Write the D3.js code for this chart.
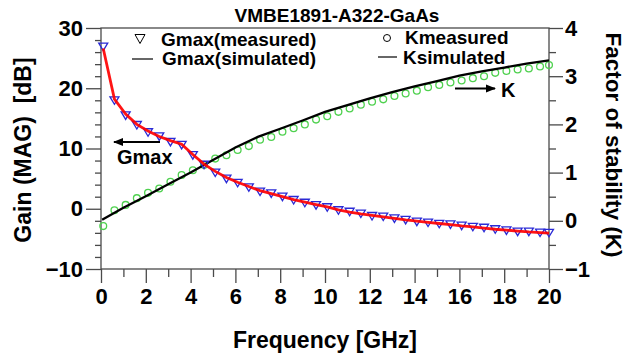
<!DOCTYPE html>
<html>
<head>
<meta charset="utf-8">
<script src="https://cdn.jsdelivr.net/npm/d3@7/dist/d3.min.js"></script>
<style>
  html, body { margin: 0; padding: 0; background: #fff; }
  svg { display: block; }
  text { font-family: Arial, "Liberation Sans", sans-serif; font-weight: bold; fill: #000; }
</style>
</head>
<body>
<svg id="chart" width="628" height="358"></svg>
<script>
// Measurement frequencies [GHz]
const freq = [0.1, 0.6, 1.1, 1.6, 2.1, 2.6, 3.1, 3.6, 4.1, 4.6, 5.1, 5.6, 6.1, 6.6, 7.1, 7.6,
  8.1, 8.6, 9.1, 9.6, 10.1, 10.6, 11.1, 11.6, 12.1, 12.6, 13.1, 13.6, 14.1, 14.6, 15.1,
  15.6, 16.1, 16.6, 17.1, 17.6, 18.1, 18.6, 19.1, 19.6, 20.0];

// Maximum available gain [dB]
const gmaxMeasured = [26.9, 18.0, 15.5, 13.9, 12.7, 12.0, 11.1, 10.6, 8.9, 7.3, 6.0, 5.0,
  4.3, 3.55, 2.85, 2.55, 2.0, 1.45, 1.0, 0.6, 0.25, -0.25, -0.5, -0.8, -1.2, -1.3, -1.6,
  -1.85, -2.15, -2.3, -2.5, -2.6, -2.8, -3.0, -3.15, -3.4, -3.6, -3.8, -3.8, -3.95, -4.0];
const gmaxSimulated = [26.6, 18.2, 15.7, 14.0, 12.9, 12.0, 11.3, 10.7, 9.0, 7.4, 6.2, 5.2,
  4.4, 3.7, 3.0, 2.5, 2.0, 1.5, 1.1, 0.7, 0.3, -0.2, -0.55, -0.85, -1.1, -1.35, -1.6,
  -1.85, -2.05, -2.25, -2.45, -2.65, -2.85, -3.0, -3.2, -3.4, -3.55, -3.7, -3.85, -3.95, -4.05];

// Stability factor K
const kMeasured = [-0.11, 0.22, 0.33, 0.47, 0.58, 0.67, 0.81, 0.95, 1.05, 1.16, 1.29, 1.36,
  1.47, 1.55, 1.68, 1.74, 1.85, 1.92, 2.00, 2.10, 2.17, 2.26, 2.33, 2.41, 2.47, 2.52, 2.59,
  2.64, 2.70, 2.77, 2.82, 2.87, 2.91, 2.96, 3.00, 3.07, 3.11, 3.14, 3.16, 3.20, 3.23];
const kSimFreq = [0.05, 1, 2, 3, 4, 5, 6, 7, 8, 9, 10, 11, 12, 13, 14, 15, 16, 17, 18, 19, 20];
const kSimulated = [0.02, 0.27, 0.51, 0.76, 1.00, 1.26, 1.52, 1.74, 1.91, 2.08, 2.26, 2.40,
  2.54, 2.67, 2.79, 2.90, 3.01, 3.10, 3.18, 3.26, 3.33];

// Axis ticks
const xMajor = [0, 2, 4, 6, 8, 10, 12, 14, 16, 18, 20];
const xMinor = [1, 3, 5, 7, 9, 11, 13, 15, 17, 19];
const gainMajor = [-10, 0, 10, 20, 30];
const gainMinor = [-8, -6, -4, -2, 2, 4, 6, 8, 12, 14, 16, 18, 22, 24, 26, 28];
const kMajor = [-1, 0, 1, 2, 3, 4];
const kMinor = [-0.5, 0.5, 1.5, 2.5, 3.5];

const svg = d3.select("#chart");
const L = 101, R = 549, T = 28, B = 269;
const axisColor = "#4a4a4a";

const x = d3.scaleLinear().domain([0, 20]).range([L, R]);
const yG = d3.scaleLinear().domain([-10, 30]).range([B, T]);
const yK = d3.scaleLinear().domain([-1, 4]).range([B, T]);

function styleAxis(g) {
  g.select(".domain").remove();
  g.selectAll(".tick line").attr("stroke", axisColor).attr("stroke-width", 1.3);
  g.selectAll(".tick text").attr("font-size", 22).attr("fill", "#000");
}

// Bottom axis
svg.append("g").attr("transform", `translate(0,${B})`)
  .call(d3.axisBottom(x).tickValues(xMajor).tickSize(14).tickPadding(5).tickFormat(d3.format("d")))
  .call(styleAxis);
svg.append("g").attr("transform", `translate(0,${B})`)
  .call(d3.axisBottom(x).tickValues(xMinor).tickSize(8).tickFormat(""))
  .call(styleAxis);

// Left axis (gain)
svg.append("g").attr("transform", `translate(${L},0)`)
  .call(d3.axisLeft(yG).tickValues(gainMajor).tickSize(15).tickPadding(3).tickFormat(d3.format("d")))
  .call(styleAxis);
svg.append("g").attr("transform", `translate(${L},0)`)
  .call(d3.axisLeft(yG).tickValues(gainMinor).tickSize(6).tickFormat(""))
  .call(styleAxis);

// Right axis (stability factor)
svg.append("g").attr("transform", `translate(${R},0)`)
  .call(d3.axisRight(yK).tickValues(kMajor).tickSize(14).tickPadding(2).tickFormat(d3.format("d")))
  .call(styleAxis);
svg.append("g").attr("transform", `translate(${R},0)`)
  .call(d3.axisRight(yK).tickValues(kMinor).tickSize(7).tickFormat(""))
  .call(styleAxis);

// Plot frame
svg.append("rect").attr("x", L).attr("y", T).attr("width", R - L).attr("height", B - T)
  .attr("fill", "none").attr("stroke", axisColor).attr("stroke-width", 1.3);

// K curves
const kPts = freq.map((f, i) => ({ f, v: kMeasured[i] }));
svg.append("g").selectAll("circle").data(kPts).join("circle")
  .attr("cx", d => x(d.f)).attr("cy", d => yK(d.v)).attr("r", 3.4)
  .attr("fill", "none").attr("stroke", "#4fd14f").attr("stroke-width", 1.3);

svg.append("path")
  .datum(kSimFreq.map((f, i) => ({ f, v: kSimulated[i] })))
  .attr("fill", "none").attr("stroke", "#000").attr("stroke-width", 2.3)
  .attr("d", d3.line().x(d => x(d.f)).y(d => yK(d.v)));

// Gmax curves
const gPts = freq.map((f, i) => ({ f, v: gmaxMeasured[i] }));
const tri = "M-4.5,-3.5L4.5,-3.5L0,4Z";
svg.append("g").selectAll("path").data(gPts).join("path")
  .attr("transform", d => `translate(${x(d.f)},${yG(d.v)})`)
  .attr("d", tri).attr("fill", "none").attr("stroke", "#2a2ad6").attr("stroke-width", 1.3);

svg.append("path")
  .datum(freq.map((f, i) => ({ f, v: gmaxSimulated[i] })))
  .attr("fill", "none").attr("stroke", "#ff0000").attr("stroke-width", 2.8)
  .attr("stroke-opacity", 0.92)
  .attr("d", d3.line().x(d => x(d.f)).y(d => yG(d.v)));

// Title
svg.append("text").attr("x", 337).attr("y", 22).attr("text-anchor", "middle")
  .attr("font-size", 19).text("VMBE1891-A322-GaAs");

// Legend
const leg = svg.append("g");
leg.append("path").attr("transform", "translate(140,39)").attr("d", "M-5,-4.5L5,-4.5L0,4.5Z")
  .attr("fill", "none").attr("stroke", "#000").attr("stroke-width", 1);
leg.append("text").attr("x", 161).attr("y", 46).attr("font-size", 19).text("Gmax(measured)");
leg.append("line").attr("x1", 132).attr("x2", 153).attr("y1", 59).attr("y2", 59)
  .attr("stroke", "#000").attr("stroke-width", 1.2);
leg.append("text").attr("x", 162).attr("y", 65).attr("font-size", 19).text("Gmax(simulated)");
leg.append("circle").attr("cx", 387).attr("cy", 38).attr("r", 3.5)
  .attr("fill", "none").attr("stroke", "#000").attr("stroke-width", 1);
leg.append("text").attr("x", 405).attr("y", 44).attr("font-size", 19).text("Kmeasured");
leg.append("line").attr("x1", 378).attr("x2", 397).attr("y1", 57).attr("y2", 57)
  .attr("stroke", "#000").attr("stroke-width", 1.2);
leg.append("text").attr("x", 403).attr("y", 64).attr("font-size", 19).text("Ksimulated");

// Curve annotations
const defs = svg.append("defs");
defs.append("marker").attr("id", "head").attr("viewBox", "0 0 10 10")
  .attr("refX", 9).attr("refY", 5).attr("markerWidth", 5).attr("markerHeight", 5)
  .attr("orient", "auto-start-reverse")
  .append("path").attr("d", "M0,1L10,5L0,9Z").attr("fill", "#000");
svg.append("line").attr("x1", 160).attr("x2", 114).attr("y1", 142).attr("y2", 142)
  .attr("stroke", "#000").attr("stroke-width", 2).attr("marker-end", "url(#head)");
svg.append("text").attr("x", 117).attr("y", 164).attr("font-size", 20).text("Gmax");
svg.append("line").attr("x1", 455).attr("x2", 495).attr("y1", 88.5).attr("y2", 88.5)
  .attr("stroke", "#000").attr("stroke-width", 2).attr("marker-end", "url(#head)");
svg.append("text").attr("x", 501).attr("y", 97).attr("font-size", 20).text("K");

// Axis titles
svg.append("text").attr("x", 325).attr("y", 348).attr("text-anchor", "middle")
  .attr("font-size", 23).text("Frequency [GHz]");
svg.append("text").attr("transform", "translate(31,150) rotate(-90)").attr("text-anchor", "middle")
  .attr("font-size", 23).attr("xml:space", "preserve").text("Gain (MAG)  [dB]");
svg.append("text").attr("transform", "translate(606,145) rotate(90)").attr("text-anchor", "middle")
  .attr("font-size", 22.5).text("Factor of stability (K)");
</script>
</body>
</html>
